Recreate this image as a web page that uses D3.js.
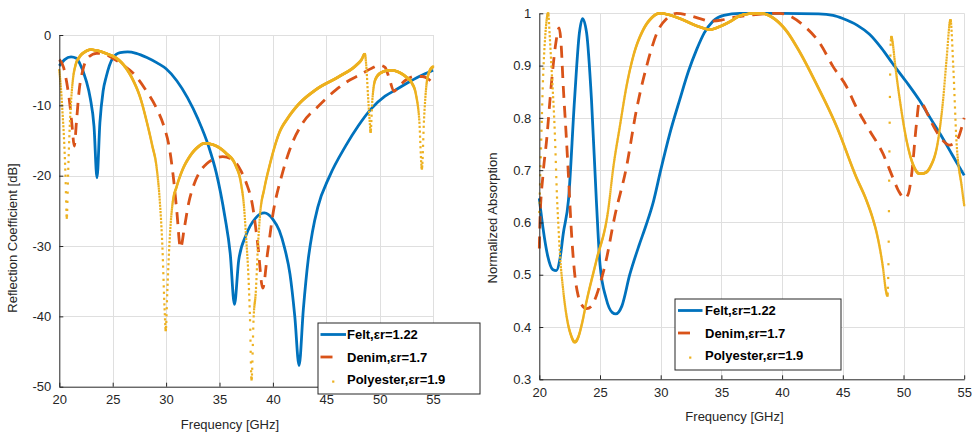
<!DOCTYPE html>
<html>
<head>
<meta charset="utf-8">
<script src="https://cdn.jsdelivr.net/npm/d3@7"></script>
<style>
body { margin: 0; background: #fff; }
svg { display: block; font-family: "Liberation Sans", Arial, Helvetica, sans-serif; }
.axis text { fill: #262626; font-size: 13px; }
.axis path, .axis line { stroke: #262626; }
.grid line { stroke: #dfdfdf; stroke-width: 1; }
.label { fill: #262626; font-size: 13px; }
.legend text { fill: #000; font-size: 13px; font-weight: bold; }
</style>
</head>
<body>
<svg id="chart" width="972" height="435"></svg>
<script>
// tick values
const freqTicks = [20, 25, 30, 35, 40, 45, 50, 55]
const reflTicks = [0, -10, -20, -30, -40, -50]
const absTicks = [0.3, 0.4, 0.5, 0.6, 0.7, 0.8, 0.9, 1]

const seriesNames = ['Felt,εr=1.22', 'Denim,εr=1.7', 'Polyester,εr=1.9']
const colors = ['#0072BD', '#D95319', '#EDB120']

// reflection coefficient [dB], [GHz, dB]
const feltRefl = [[20,-4.4],[20.5,-3.5],[21.1,-3.1],[21.6,-3.3],[21.9,-4],[22.5,-6.4],[22.9,-9],[23.25,-13],
  [23.53,-20.3],[23.8,-12.5],[24.1,-8],[24.4,-5.9],[25,-3.3],[25.7,-2.5],[26.4,-2.4],[27.2,-2.6],[28.2,-3.2],
  [29.2,-4],[30,-4.8],[31,-6.5],[32,-8.9],[33,-12],[34,-15.9],[34.7,-19.6],[35.5,-25.8],[36,-31],[36.4,-38.3],
  [36.8,-32],[37.5,-28.4],[38.4,-26],[39.2,-25.3],[40,-26.2],[40.6,-27.8],[41.1,-30.3],[41.6,-34],[42.05,-40],
  [42.45,-47],[42.85,-39],[43.3,-32],[43.7,-28],[44.2,-24.5],[45.3,-20.1],[46.8,-15.8],[48,-12.9],[49.2,-10.5],
  [50.5,-8.7],[51.5,-7.8],[52.5,-6.9],[53.7,-5.9],[55,-5.0]]
const denimRefl = [[20,-3.5],[20.4,-4.6],[20.7,-6.8],[21,-10],[21.2,-13],[21.4,-15.8],[21.6,-12.5],[21.85,-8],
  [22.2,-5],[22.7,-3.2],[23.5,-2.6],[24.2,-2.7],[25,-3.3],[26,-4.3],[26.9,-5.4],[28,-7.6],[29.1,-10.4],[29.8,-13],
  [30.3,-16],[30.7,-20.5],[31,-25],[31.35,-30.3],[31.7,-27.5],[32.1,-24],[32.6,-21.3],[33.1,-19.6],[33.8,-18.3],
  [34.5,-17.6],[35.3,-17.3],[36.2,-17.7],[37,-19.3],[37.5,-21],[38.1,-24.3],[38.6,-30],[39.05,-36],[39.5,-31],
  [40,-25.5],[40.9,-19.6],[41.7,-15.8],[42.8,-12.5],[44.2,-10.2],[45.9,-7.8],[47.2,-6.4],[48.1,-5.7],[49.3,-4.7],
  [50,-4.3],[50.5,-4.6],[50.9,-6.2],[51.35,-8],[51.8,-7.3],[52.45,-6.4],[53.3,-5.9],[54,-5.9],[54.5,-6.2],[55,-6.9]]
const polyRefl = [[20,-5],[20.15,-7.5],[20.3,-11],[20.45,-15],[20.58,-20],[20.7,-26],[20.82,-20],[20.95,-14],
  [21.1,-9.5],[21.3,-6],[21.5,-4.4],[21.9,-3.1],[22.4,-2.4],[22.9,-2.1],[23.5,-2.2],[24.5,-2.7],[25.35,-3.3],
  [26.2,-4.6],[26.9,-6.4],[27.6,-9],[28.15,-12.1],[28.7,-15.7],[29.1,-18.7],[29.4,-23.4],[29.65,-30],[29.86,-39],
  [29.97,-42],[30.1,-37],[30.3,-30],[30.6,-24],[31,-21.5],[31.5,-19.3],[32.2,-17.3],[33,-15.9],[33.6,-15.4],
  [34.4,-15.6],[35.6,-16.8],[36.5,-18.5],[37,-21],[37.3,-24.5],[37.5,-29],[37.7,-34],[37.85,-40],[38.0,-49],
  [38.2,-40],[38.4,-36.5],[38.6,-30],[38.8,-25.5],[39.2,-21.8],[39.7,-18.5],[40.6,-13.9],[41.4,-11.8],[42.2,-10.2],
  [44,-7.8],[46.2,-5.9],[47.8,-4.3],[48.3,-3.5],[48.6,-2.7],[48.75,-4.5],[48.9,-8.5],[49.05,-12],[49.15,-13.8],
  [49.3,-9.5],[49.6,-6.3],[50.2,-5.3],[51,-5],[51.8,-5.3],[52.5,-6],[53,-6.8],[53.4,-8.5],[53.7,-12],[53.95,-19],
  [54.15,-12],[54.35,-7.5],[54.6,-5.4],[55,-4.5]]

// normalized absorption, [GHz, value]
const feltAbs = [[20,0.646],[20.3,0.59],[20.7,0.535],[21.1,0.51],[21.4,0.508],[21.7,0.53],[21.97,0.578],
  [22.4,0.642],[22.9,0.834],[23.3,0.962],[23.56,0.99],[23.9,0.962],[24.3,0.834],[24.7,0.642],[25,0.52],
  [25.5,0.455],[26,0.428],[26.3,0.425],[26.8,0.44],[27.45,0.5],[28.2,0.555],[28.8,0.595],[29.4,0.64],[30,0.7],
  [30.75,0.77],[31.57,0.835],[32.3,0.89],[32.95,0.93],[33.6,0.963],[34.3,0.985],[35.2,0.996],[36.5,1.0],[40,1.0],
  [43,0.999],[44.2,0.996],[45,0.99],[46.2,0.977],[47.2,0.96],[48.2,0.933],[49.1,0.904],[50.2,0.87],[51.3,0.834],
  [52.2,0.8],[53,0.77],[54,0.73],[55,0.69]]
const denimAbs = [[20,0.55],[20.05,0.6],[20.3,0.69],[20.6,0.757],[21,0.866],[21.36,0.943],[21.63,0.972],
  [21.8,0.94],[21.96,0.866],[22.24,0.757],[22.45,0.668],[22.6,0.6],[22.9,0.505],[23.2,0.46],[23.5,0.442],
  [23.9,0.435],[24.3,0.44],[24.7,0.46],[25.1,0.49],[25.5,0.527],[26.2,0.61],[27.18,0.706],[28,0.815],[28.83,0.898],
  [29.8,0.968],[30.5,0.99],[31.3,1.0],[32.5,0.995],[33.5,0.988],[34.05,0.985],[35,0.987],[36,0.992],[37.6,0.997],
  [39.8,1.0],[40.8,0.993],[41.7,0.978],[43.1,0.943],[44.2,0.898],[45.3,0.86],[46.1,0.821],[47.2,0.776],
  [48.3,0.732],[49.1,0.687],[49.6,0.66],[50.1,0.646],[50.4,0.655],[50.66,0.69],[51.07,0.789],[51.3,0.83],
  [51.6,0.825],[52.2,0.796],[53,0.764],[53.8,0.748],[54.4,0.757],[55,0.8]]
const polyAbs = [[20,0.62],[20.15,0.75],[20.3,0.87],[20.5,0.96],[20.73,1.0],[20.85,0.96],[21,0.898],
  [21.28,0.77],[21.47,0.642],[21.55,0.604],[21.7,0.54],[21.97,0.47],[22.37,0.405],[22.6,0.385],[22.92,0.371],
  [23.2,0.38],[23.5,0.405],[23.9,0.45],[24.7,0.527],[25.67,0.623],[26.1,0.706],[26.63,0.783],[27.18,0.86],
  [27.73,0.917],[28.55,0.968],[29.2,0.99],[29.93,1.0],[30.7,0.997],[31.57,0.99],[33.2,0.974],[34.05,0.969],
  [34.9,0.975],[35.7,0.984],[36.5,0.995],[37.3,0.999],[38.2,1.0],[39.5,0.987],[40.4,0.965],[41.2,0.936],
  [42.8,0.866],[44.5,0.783],[46.1,0.687],[46.95,0.642],[47.5,0.605],[47.8,0.579],[48.3,0.515],[48.55,0.47],
  [48.68,0.46],[48.76,0.52],[48.82,0.68],[48.88,0.84],[48.94,0.94],[49,0.955],[49.1,0.945],[49.3,0.904],
  [49.7,0.834],[50.25,0.757],[50.8,0.71],[51.34,0.693],[51.8,0.695],[52.2,0.706],[52.85,0.757],[53.26,0.834],
  [53.54,0.91],[53.87,0.987],[54.1,0.898],[54.36,0.757],[54.8,0.668],[55,0.633]]

const svg = d3.select('#chart')
const fmt = d => String(d)

// walk the rendered curve and pick the point at each frequency sample (marker-only series)
function sampleOnX(node, xs) {
  const total = node.getTotalLength()
  const out = []
  let prev = node.getPointAtLength(0), i = 0
  while (i < xs.length && xs[i] <= prev.x) { out.push([xs[i], prev.y]); i++ }
  for (let s = 0.4; i < xs.length; s += 0.4) {
    const p = node.getPointAtLength(Math.min(s, total))
    while (i < xs.length && xs[i] <= p.x) {
      const t = p.x > prev.x ? (xs[i] - prev.x) / (p.x - prev.x) : 1
      out.push([xs[i], prev.y + t * (p.y - prev.y)])
      i++
    }
    if (s >= total) break
    prev = p
  }
  return out
}

function drawPanel(p) {
  const x = d3.scaleLinear().domain([20, 55]).range(p.xRange)
  const y = d3.scaleLinear().domain(p.yDomain).range(p.yRange)
  const [x0, x1] = p.xRange
  const [yb, yt] = p.yRange
  const g = svg.append('g')

  //grid
  const grid = g.append('g').classed('grid', true)
  grid.append('g').selectAll('line').data(freqTicks.slice(1)).join('line')
    .attr('x1', d => Math.round(x(d)) + 0.5).attr('x2', d => Math.round(x(d)) + 0.5)
    .attr('y1', yt).attr('y2', yb)
  grid.append('g').selectAll('line').data(p.yTicks.filter(d => d !== p.yDomain[0])).join('line')
    .attr('x1', x0).attr('x2', x1)
    .attr('y1', d => Math.round(y(d)) + 0.5).attr('y2', d => Math.round(y(d)) + 0.5)

  //curves
  g.append('clipPath').attr('id', p.id + '-clip')
    .append('rect').attr('x', x0 - 2).attr('y', yt - 4).attr('width', x1 - x0 + 4).attr('height', yb - yt + 4)
  const plot = g.append('g').attr('clip-path', `url(#${p.id}-clip)`)
  const line = d3.line().x(d => x(d[0])).y(d => y(d[1])).curve(d3.curveMonotoneX)

  plot.append('path').datum(p.felt).attr('d', line)
    .attr('fill', 'none').attr('stroke', colors[0]).attr('stroke-width', 2.8)
  plot.append('path').datum(p.denim).attr('d', line)
    .attr('fill', 'none').attr('stroke', colors[1]).attr('stroke-width', 2.8)
    .attr('stroke-dasharray', '12,8')
  const guide = plot.append('path').datum(p.poly).attr('d', line).attr('fill', 'none').attr('stroke', 'none')
  const dots = sampleOnX(guide.node(), d3.range(20, 55.0001, 0.02).map(x))
  guide.remove()
  plot.append('g').selectAll('rect').data(dots).join('rect')
    .attr('x', d => d[0] - 1.1).attr('y', d => d[1] - 1.1)
    .attr('width', 2.2).attr('height', 2.2)
    .attr('fill', colors[2])

  //axes
  g.append('g').classed('axis', true)
    .attr('transform', `translate(0,${yb})`)
    .call(d3.axisBottom(x).tickValues(freqTicks).tickFormat(fmt).tickSize(-4).tickSizeOuter(0).tickPadding(8))
  g.append('g').classed('axis', true)
    .attr('transform', `translate(${x0},0)`)
    .call(d3.axisLeft(y).tickValues(p.yTicks).tickFormat(fmt).tickSize(-4).tickSizeOuter(0).tickPadding(8))

  //labels
  g.append('text').classed('label', true)
    .attr('x', p.xLabel[0]).attr('y', p.xLabel[1]).attr('text-anchor', 'middle')
    .text('Frequency [GHz]')
  g.append('text').classed('label', true)
    .attr('transform', `translate(${p.yLabel[0]},${p.yLabel[1]}) rotate(-90)`)
    .attr('text-anchor', 'middle')
    .text(p.yTitle)

  //legend
  const lg = g.append('g').classed('legend', true)
    .attr('transform', `translate(${p.legend.x},${p.legend.y})`)
  lg.append('rect').attr('x', 0.5).attr('y', 0.5).attr('width', p.legend.w).attr('height', p.legend.h)
    .attr('fill', '#fff').attr('stroke', '#262626').attr('stroke-width', 1)
  const rows = [12, 34.5, 57]
  lg.append('line').attr('x1', p.legend.s0).attr('x2', p.legend.s1).attr('y1', rows[0]).attr('y2', rows[0])
    .attr('stroke', colors[0]).attr('stroke-width', 2.8)
  lg.append('line').attr('x1', p.legend.s0).attr('x2', p.legend.s0 + 12).attr('y1', rows[1]).attr('y2', rows[1])
    .attr('stroke', colors[1]).attr('stroke-width', 2.8)
  lg.append('rect').attr('x', (p.legend.s0 + p.legend.s1) / 2 - 1.1).attr('y', rows[2] + 1)
    .attr('width', 2.2).attr('height', 2.2).attr('fill', colors[2])
  lg.selectAll('text').data(seriesNames).join('text')
    .attr('x', p.legend.tx).attr('y', (d, i) => rows[i]).attr('dy', '0.36em')
    .text(d => d)
}

drawPanel({
  id: 'refl', xRange: [59.3, 433.1], yDomain: [-50, 0], yRange: [386.7, 35], yTicks: reflTicks,
  felt: feltRefl, denim: denimRefl, poly: polyRefl,
  xLabel: [230, 429], yLabel: [17, 238], yTitle: 'Reflection Coefficient [dB]',
  legend: {x: 317.5, y: 322.5, w: 162, h: 71, s0: 3, s1: 28.5, tx: 29.5}
})
drawPanel({
  id: 'abs', xRange: [539.3, 964.2], yDomain: [0.3, 1], yRange: [379.3, 13.3], yTicks: absTicks,
  felt: feltAbs, denim: denimAbs, poly: polyAbs,
  xLabel: [734.5, 421], yLabel: [497, 218], yTitle: 'Normalized Absorption',
  legend: {x: 674.5, y: 298.5, w: 166, h: 71, s0: 3.5, s1: 28, tx: 30.5}
})
</script>
</body>
</html>
